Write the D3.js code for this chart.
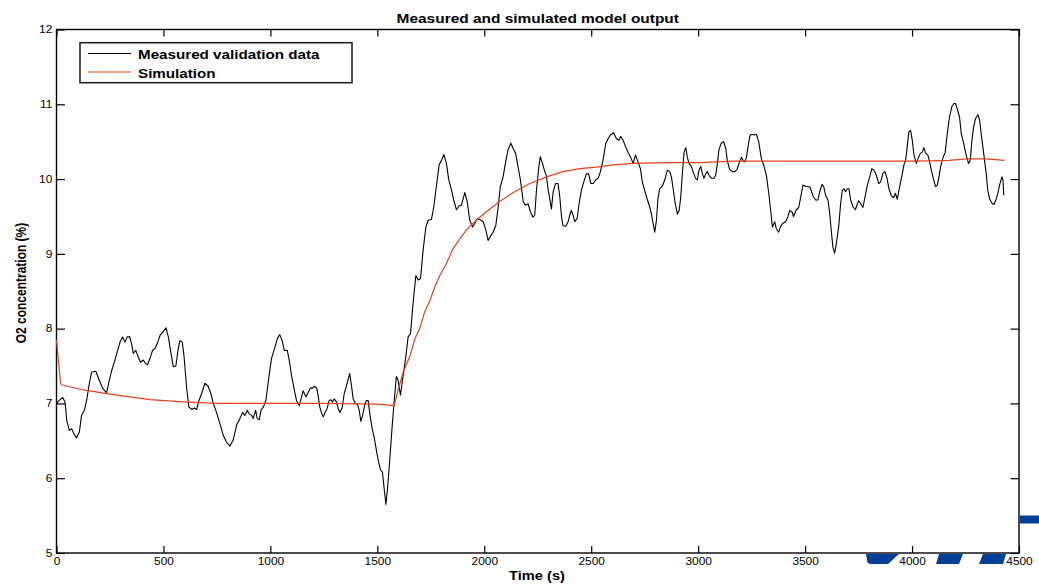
<!DOCTYPE html>
<html>
<head>
<meta charset="utf-8">
<script src="https://cdn.jsdelivr.net/npm/d3@7"></script>
<style>
  html, body { margin: 0; padding: 0; background: #fff; }
  svg { display: block; font-family: "Liberation Sans", Arial, Helvetica, sans-serif; }
</style>
</head>
<body>
<svg id="chart" width="1039" height="584"></svg>
<script>
// Measured O2 concentration (%) over time (s)
const timeMeasured = [0,13,29,40,48,60,71,82,94,107,117,130,141,153,164,184,200,216,234,247,258,273,286,297,309,320,331,343,351,359,371,382,393,406,417,426,437,449,460,471,484,496,512,523,533,546,558,569,577,588,596,608,619,632,644,655,666,678,694,709,722,733,748,764,780,795,811,826,842,858,870,881,892,901,912,920,931,938,948,956,967,979,990,1005,1021,1033,1044,1055,1065,1079,1088,1099,1114,1122,1135,1146,1153,1166,1177,1188,1195,1205,1216,1223,1231,1241,1247,1255,1265,1275,1283,1290,1298,1309,1317,1325,1336,1345,1356,1371,1379,1387,1398,1407,1415,1423,1431,1442,1449,1457,1465,1476,1485,1496,1504,1515,1524,1532,1540,1547,1558,1569,1579,1589,1597,1608,1621,1633,1644,1655,1667,1680,1691,1702,1714,1727,1738,1753,1764,1776,1789,1800,1811,1823,1834,1847,1857,1870,1882,1893,1909,1920,1932,1945,1956,1967,1979,1995,2007,2018,2030,2041,2054,2065,2075,2088,2100,2111,2124,2135,2147,2158,2169,2182,2192,2205,2216,2228,2236,2244,2255,2262,2272,2283,2290,2298,2306,2314,2322,2333,2345,2353,2361,2368,2381,2392,2400,2407,2415,2423,2434,2443,2454,2465,2477,2488,2498,2509,2521,2532,2543,2555,2568,2579,2590,2605,2618,2629,2638,2649,2661,2672,2683,2696,2707,2719,2730,2739,2750,2761,2773,2781,2789,2797,2805,2812,2820,2833,2844,2856,2867,2875,2883,2893,2903,2911,2918,2926,2934,2942,2949,2957,2968,2976,2988,2996,3004,3012,3020,3027,3035,3043,3051,3062,3074,3082,3090,3097,3108,3119,3129,3136,3147,3160,3171,3182,3191,3202,3210,3217,3225,3233,3241,3249,3261,3272,3283,3295,3306,3319,3330,3339,3347,3358,3365,3376,3386,3397,3409,3420,3428,3439,3446,3459,3470,3490,3502,3513,3524,3537,3549,3560,3568,3579,3587,3596,3607,3615,3622,3630,3638,3646,3657,3666,3674,3682,3689,3697,3705,3713,3724,3735,3742,3750,3760,3770,3780,3791,3802,3812,3822,3833,3844,3853,3864,3873,3883,3892,3903,3914,3922,3931,3942,3953,3962,3970,3978,3985,3993,4001,4009,4020,4029,4038,4048,4055,4063,4074,4082,4090,4101,4110,4118,4126,4133,4144,4155,4164,4175,4186,4196,4203,4211,4222,4230,4241,4253,4264,4272,4280,4288,4297,4308,4316,4323,4331,4339,4347,4354,4362,4373,4383,4393,4401,4409,4420,4425,4429];
const o2Measured = [7.00,7.04,7.08,7.02,6.77,6.64,6.66,6.59,6.54,6.62,6.84,6.91,7.04,7.26,7.42,7.43,7.31,7.20,7.14,7.31,7.44,7.58,7.71,7.82,7.89,7.82,7.89,7.89,7.80,7.67,7.71,7.62,7.55,7.58,7.53,7.52,7.60,7.71,7.73,7.80,7.91,7.95,8.01,7.89,7.71,7.49,7.50,7.73,7.84,7.82,7.64,7.22,6.95,6.92,6.94,6.92,7.04,7.13,7.27,7.23,7.13,7.00,6.88,6.73,6.57,6.48,6.43,6.51,6.71,6.80,6.88,6.84,6.91,6.86,6.84,6.80,6.91,6.80,6.78,6.91,6.95,7.04,7.29,7.60,7.75,7.87,7.92,7.84,7.71,7.71,7.58,7.37,7.15,7.04,6.97,7.09,7.17,7.09,7.15,7.21,7.20,7.23,7.21,7.11,6.95,6.86,6.82,6.88,6.93,7.04,7.05,7.02,7.06,7.02,6.93,6.88,6.95,7.13,7.24,7.40,7.24,7.06,7.00,6.99,6.91,6.76,6.84,6.99,7.04,7.04,6.86,6.66,6.55,6.37,6.24,6.11,6.08,5.86,5.65,5.84,6.24,6.68,7.04,7.36,7.31,7.11,7.38,7.62,7.89,7.93,8.34,8.71,8.65,8.67,9.05,9.36,9.45,9.46,9.63,9.90,10.19,10.25,10.33,10.21,9.99,9.85,9.72,9.59,9.64,9.65,9.82,9.70,9.45,9.36,9.41,9.47,9.46,9.43,9.32,9.18,9.24,9.29,9.38,9.63,9.90,10.03,10.23,10.39,10.48,10.41,10.34,10.16,9.99,9.70,9.65,9.67,9.56,9.49,9.52,9.85,10.16,10.30,10.21,10.10,10.05,9.87,9.74,9.60,9.83,9.94,9.94,9.76,9.50,9.38,9.37,9.43,9.52,9.58,9.52,9.43,9.47,9.67,9.85,9.96,10.07,10.07,9.94,9.94,9.99,10.01,10.10,10.25,10.48,10.54,10.59,10.62,10.54,10.52,10.57,10.52,10.43,10.36,10.30,10.21,10.32,10.23,10.14,9.96,9.85,9.74,9.63,9.54,9.41,9.29,9.45,9.74,9.87,9.91,9.99,10.12,10.10,10.03,9.87,9.67,9.53,9.58,9.74,10.07,10.36,10.42,10.30,10.21,10.17,10.10,10.01,9.99,10.12,10.17,10.07,10.01,10.07,10.10,10.05,10.01,10.01,10.05,10.21,10.39,10.48,10.50,10.41,10.25,10.13,10.10,10.10,10.13,10.21,10.29,10.25,10.23,10.28,10.43,10.57,10.60,10.59,10.60,10.50,10.28,10.19,10.05,9.81,9.58,9.36,9.43,9.34,9.29,9.37,9.41,9.43,9.50,9.58,9.56,9.50,9.59,9.62,9.92,9.90,9.90,9.89,9.77,9.72,9.72,9.83,9.93,9.90,9.78,9.72,9.54,9.32,9.09,9.01,9.14,9.36,9.67,9.85,9.87,9.83,9.87,9.87,9.72,9.63,9.59,9.65,9.71,9.67,9.62,9.76,9.92,10.03,10.14,10.12,10.05,9.94,9.96,10.08,10.10,10.01,9.87,9.78,9.75,9.81,9.73,9.90,10.05,10.19,10.25,10.45,10.63,10.65,10.52,10.32,10.21,10.28,10.34,10.36,10.42,10.35,10.32,10.23,10.12,9.99,9.90,9.92,10.03,10.16,10.28,10.36,10.59,10.83,10.97,11.01,11.01,10.94,10.83,10.61,10.48,10.32,10.21,10.25,10.52,10.70,10.81,10.86,10.79,10.61,10.43,10.25,10.07,9.85,9.74,9.68,9.66,9.73,9.81,9.92,10.03,9.99,9.78];

// Simulated model output
const timeSim = [0,19,24,125,281,437,593,748,1000,1250,1500,1579,1597,1621,1652,1675,1699,1722,1745,1769,1792,1823,1854,1886,1917,1948,1979,2026,2072,2135,2213,2291,2368,2446,2524,2602,2696,2851,3007,3163,3397,3700,4020,4175,4253,4347,4432];
const o2Sim = [7.85,7.27,7.25,7.18,7.11,7.05,7.02,7.00,7.00,7.00,6.99,6.97,7.18,7.42,7.63,7.86,8.01,8.23,8.37,8.56,8.71,8.87,9.07,9.20,9.32,9.41,9.49,9.60,9.70,9.82,9.94,10.03,10.10,10.14,10.16,10.19,10.21,10.22,10.22,10.24,10.24,10.24,10.24,10.25,10.27,10.27,10.25];

// Axis ticks and labels
const xTicks = [0,500,1000,1500,2000,2500,3000,3500,4000,4500];
const yTicks = [5,6,7,8,9,10,11,12];
const seriesNames = ["Measured validation data", "Simulation"];
const seriesColors = ["#000000", "#e8401e"];
const titleText = "Measured and simulated model output";
const xLabelText = "Time (s)";
const yLabelText = "O2 concentration (%)";

const svg = d3.select("#chart");
const plotLeft = 56.5, plotRight = 1019, plotTop = 29.5, plotBottom = 553;
const STRETCH = 1.19; // horizontal text stretch of the figure

const x = d3.scaleLinear().domain([0, 4500]).range([plotLeft, plotRight]);
const y = d3.scaleLinear().domain([5, 12]).range([plotBottom, plotTop]);

// Blue logo fragments at the lower right edge
const decor = [
  "M866,554 L899,554 L888,564 L871,564 Q867,564 867,560 Z",
  "M939,554 L963,554 L959,564 L936,564 Z",
  "M983,554 L1006,554 L1003,564 L979,564 Z",
  "M1020,515.5 L1039,515.5 L1039,523.5 L1020,523.5 Z"
];
svg.append("g").selectAll("path").data(decor).join("path")
  .attr("d", d => d).attr("fill", "#003f98");

// Plot frame
svg.append("rect")
  .attr("x", plotLeft).attr("y", plotTop)
  .attr("width", plotRight - plotLeft).attr("height", plotBottom - plotTop)
  .attr("fill", "none").attr("stroke", "#000").attr("stroke-width", 1.4);

// Data lines
const pairs = (ts, vs) => d3.zip(ts, vs).filter(p => p[0] != null && p[1] != null);
const lineGen = d3.line().x(p => x(p[0])).y(p => y(p[1]));

svg.append("path")
  .attr("d", lineGen(pairs(timeMeasured, o2Measured)))
  .attr("fill", "none").attr("stroke", seriesColors[0]).attr("stroke-width", 1.1)
  .attr("stroke-linejoin", "round");
svg.append("path")
  .attr("d", lineGen(pairs(timeSim, o2Sim)))
  .attr("fill", "none").attr("stroke", seriesColors[1]).attr("stroke-width", 1.2)
  .attr("stroke-linejoin", "round");

// Axes (ticks point inward)
function styleAxis(g) {
  g.select(".domain").remove();
  g.selectAll(".tick line").attr("stroke", "#000").attr("stroke-width", 1.2);
  g.selectAll(".tick text").attr("fill", "#000")
    .style("font-size", "10px")
    .style("font-family", '"Liberation Sans", Arial, sans-serif');
}

const gx = svg.append("g").attr("transform", `translate(0,${plotBottom})`)
  .call(d3.axisBottom(x).tickValues(xTicks).tickSizeInner(-7).tickSizeOuter(0).tickPadding(5).tickFormat(d3.format("d")));
styleAxis(gx);
gx.selectAll(".tick text").attr("dy", "0.71em").attr("transform", `scale(${STRETCH},1)`);

const gxt = svg.append("g").attr("transform", `translate(0,${plotTop})`)
  .call(d3.axisTop(x).tickValues(xTicks).tickSizeInner(-7).tickSizeOuter(0).tickFormat(""));
styleAxis(gxt);

const gy = svg.append("g").attr("transform", `translate(${plotLeft},0)`)
  .call(d3.axisLeft(y).tickValues(yTicks).tickSizeInner(-8.5).tickSizeOuter(0).tickPadding(3.5).tickFormat(d3.format("d")));
styleAxis(gy);
gy.selectAll(".tick text").attr("transform", `scale(${STRETCH},1)`);

const gyr = svg.append("g").attr("transform", `translate(${plotRight},0)`)
  .call(d3.axisRight(y).tickValues(yTicks).tickSizeInner(-8.5).tickSizeOuter(0).tickFormat(""));
styleAxis(gyr);

// Title and axis labels
svg.append("text")
  .attr("transform", `translate(${(plotLeft + plotRight) / 2},22.5) scale(${STRETCH},1)`)
  .attr("text-anchor", "middle").style("font-weight", "bold").style("font-size", "13px")
  .text(titleText);

svg.append("text")
  .attr("transform", `translate(537,580) scale(1.22,1)`)
  .attr("text-anchor", "middle").style("font-weight", "bold").style("font-size", "12px")
  .text(xLabelText);

svg.append("text")
  .attr("transform", `translate(26.3,283) scale(${STRETCH},1) rotate(-90)`)
  .attr("text-anchor", "middle").style("font-weight", "bold").style("font-size", "12px")
  .text(yLabelText);

// Legend
const legend = svg.append("g");
legend.append("rect")
  .attr("x", 80).attr("y", 42.7).attr("width", 272).attr("height", 40)
  .attr("fill", "#fff").attr("stroke", "#1a1a1a").attr("stroke-width", 1.5);
const rows = legend.selectAll("g.row").data(seriesNames).join("g").attr("class", "row")
  .attr("transform", (d, i) => `translate(0,${i * 18.5})`);
rows.append("line")
  .attr("x1", 88).attr("x2", 131).attr("y1", 53.5).attr("y2", 53.5)
  .attr("stroke", (d, i) => seriesColors[i]).attr("stroke-width", 1.1);
rows.append("text")
  .attr("transform", `translate(138,59) scale(1.17,1)`)
  .style("font-weight", "bold").style("font-size", "13px")
  .text(d => d);
</script>
</body>
</html>
